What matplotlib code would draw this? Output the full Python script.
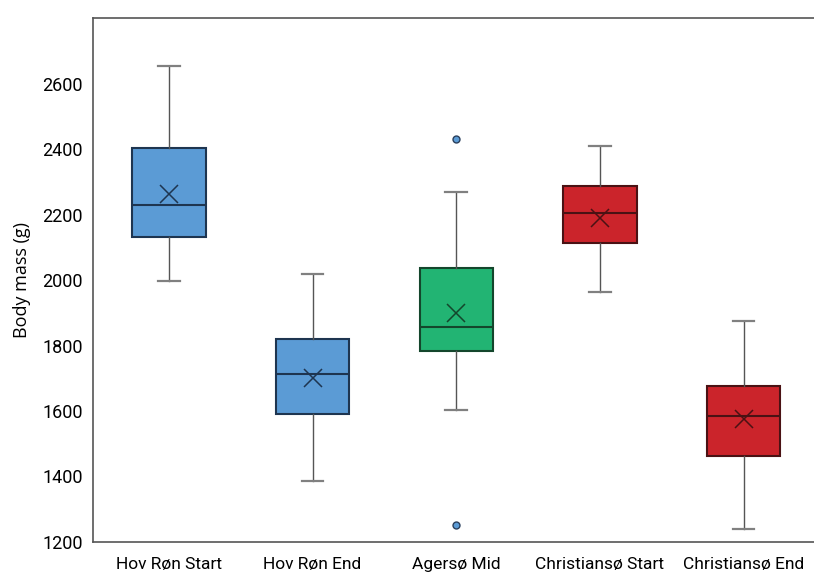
import matplotlib
matplotlib.use("Agg")
import matplotlib.pyplot as plt

plt.rcParams['font.family'] = ['Roboto', 'DejaVu Sans']

groups = ["Hov Røn Start", "Hov Røn End", "Agersø Mid", "Christiansø Start", "Christiansø End"]
whislo = [1998, 1386, 1602, 1964, 1240]
q1 = [2130, 1592, 1784, 2112, 1462]
median = [2230, 1713, 1858, 2206, 1586]
q3 = [2402, 1820, 2038, 2287, 1676]
whishi = [2655, 2018, 2269, 2410, 1875]
means = [2262, 1702, 1898, 2188, 1575]
fliers = [[], [], [2430, 1252], [], []]
fills = ["#5B9BD5", "#5B9BD5", "#22B473", "#CB242B", "#CB242B"]
edges = ["#1E3550", "#1E3550", "#14462C", "#4A1214", "#4A1214"]
yticks = [1200, 1400, 1600, 1800, 2000, 2200, 2400, 2600]

stats = []
for i, g in enumerate(groups):
    stats.append(dict(label=g, whislo=whislo[i], q1=q1[i], med=median[i], q3=q3[i],
                      whishi=whishi[i], mean=means[i], fliers=fliers[i]))

fig = plt.figure(figsize=(8.14, 5.84), dpi=100)
ax = fig.add_axes([0.114, 0.072, 0.886, 0.897])

positions = list(range(1, len(groups) + 1))
bp = ax.bxp(stats, positions=positions, widths=0.51, patch_artist=True, showmeans=True,
            capwidths=0.15,
            whiskerprops=dict(color="#555555", linewidth=1.0),
            capprops=dict(color="#808080", linewidth=1.6),
            flierprops=dict(marker='o', markersize=5, markerfacecolor="#5B9BD5",
                            markeredgecolor="#2A3F5C", markeredgewidth=1.0))

for i, box in enumerate(bp['boxes']):
    box.set_facecolor(fills[i])
    box.set_edgecolor(edges[i])
    box.set_linewidth(1.5)
for i, med in enumerate(bp['medians']):
    med.set_color(edges[i])
    med.set_linewidth(1.5)
for i, mn in enumerate(bp['means']):
    mn.set_marker('x')
    mn.set_markersize(13)
    mn.set_markeredgecolor(edges[i])
    mn.set_markeredgewidth(1.1)
    mn.set_markerfacecolor('none')

ax.set_ylim(1200, 2800)
ax.set_xlim(0.47, 5.49)
ax.set_yticks(yticks)
ax.set_yticklabels([str(t) for t in yticks], fontsize=13)
ax.set_xticks(positions)
ax.set_xticklabels(groups, fontsize=12.5)
ax.tick_params(axis='y', length=0, pad=7)
ax.tick_params(axis='x', length=0, pad=11)
ax.set_ylabel("Body mass (g)", fontsize=13, family=['Open Sans', 'DejaVu Sans'])
ax.yaxis.set_label_coords(-0.086, 0.5)

for s in ['left', 'top', 'bottom']:
    ax.spines[s].set_color("#555555")
    ax.spines[s].set_linewidth(1.2)
ax.spines['right'].set_visible(False)

fig.savefig("out.png", dpi=100)
